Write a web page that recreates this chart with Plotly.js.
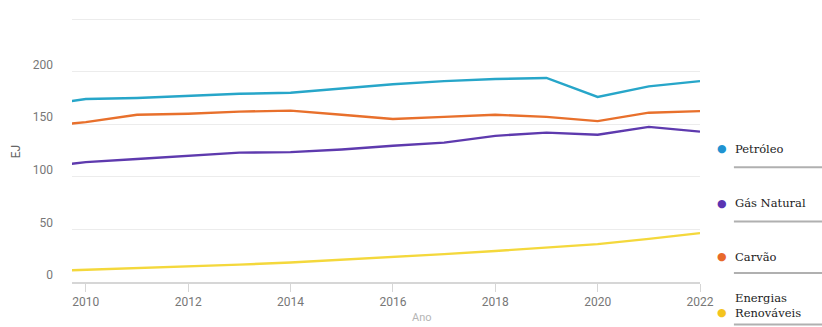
<!DOCTYPE html>
<html><head><meta charset="utf-8">
<script src="https://cdn.plot.ly/plotly-3.0.1.min.js"></script>
<style>html,body{margin:0;padding:0;background:#fff}#chart{width:822px;height:327px}</style>
</head><body><div id="chart"></div>
<script>
const years = [2009,2010,2011,2012,2013,2014,2015,2016,2017,2018,2019,2020,2021,2022];
const petroleo = [167,174,175,177,179,180,184,188,191,193,194,176,186,191];
const gasNatural = [108,114,117,120,123,123.5,126,129.5,132.5,139,142,140,147.5,143];
const carvao = [147,152,159,160,162,163,159,155,157,159,157,153,161,162.5];
const renovaveis = [10,11.5,13,14.5,16.5,18.5,21,23.5,26.5,29.5,32.5,36,41,46.5];
const seriesNames = ['Petróleo','Gás Natural','Carvão','Energias<br>Renováveis'];
const lineColors = ['#27a6c9','#5e3aae','#e8702c','#f4d83c'];
const dotColors = ['#1f93d1','#5a34b2','#e8692a','#f4c41e'];
const yTicks = [0,50,100,150,200,250];
const yTickText = ['0','50','100','150','200',''];
const xTicks = [2010,2012,2014,2016,2018,2020,2022];

const data = [petroleo, gasNatural, carvao, renovaveis].map((v,i)=>({
  x: years, y: v, type:'scatter', mode:'lines', name: seriesNames[i],
  line:{color: lineColors[i], width:2.4}, hoverinfo:'x+y'
}));

const legY = [0.502, 0.297, 0.095, -0.061];
const dotY = [0.502, 0.297, 0.095, -0.114];
const lineY = [0.433, 0.228, 0.034, -0.160];
const annotations = [];
const shapes = [];
seriesNames.forEach((n,i)=>{
  annotations.push({xref:'paper',yref:'paper',x:1.035,y:dotY[i],text:'●',showarrow:false,
    xanchor:'center',yanchor:'middle',font:{size:11,color:dotColors[i],family:'DejaVu Sans'}});
  annotations.push({xref:'paper',yref:'paper',x:1.052,y:legY[i],text:n,showarrow:false,align:'left',
    xanchor:'left',yanchor: i===3 ? 'top':'middle', yshift: i===3 ? 9 : 0,
    font:{size:11.5,color:'#222',family:'"DejaVu Serif", serif'}});
  shapes.push({type:'line',xref:'paper',yref:'paper',x0:1.054,x1:1.2,y0:lineY[i],y1:lineY[i],
    line:{color:'#b0b0b0',width:2}});
});
annotations.push({xref:'paper',yref:'paper',x:0.557,y:-0.1,text:'Ano',showarrow:false,xanchor:'center',yanchor:'top',
  font:{size:11,color:'#b5b5b5',family:'Roboto, sans-serif'}});
annotations.push({xref:'paper',yref:'paper',x:-0.089,y:0.49,text:'EJ',showarrow:false,textangle:-90,xanchor:'center',yanchor:'middle',
  font:{size:12,color:'#666',family:'Roboto, sans-serif'}});

const layout = {
  width:822, height:327,
  margin:{l:72, r:122, t:17, b:45},
  paper_bgcolor:'#fff', plot_bgcolor:'#fff',
  showlegend:false,
  font:{family:'Roboto, sans-serif', color:'#777', size:12},
  xaxis:{range:[2009.73,2022], tickvals:xTicks, showgrid:false, zeroline:false,
    showline:true, linecolor:'#d6d6d6', linewidth:1.5, ticks:'outside', ticklen:8, tickcolor:'#d6d6d6',
    tickfont:{size:12,color:'#777'}, fixedrange:true},
  yaxis:{range:[0,252], tickvals:yTicks, ticktext:yTickText, showgrid:true, gridcolor:'#ececec',
    zeroline:false, showline:false, ticks:'', ticklabelshift:-7, ticklabelstandoff:18,
    tickfont:{size:12,color:'#777'}, fixedrange:true},
  annotations, shapes
};
Plotly.newPlot('chart', data, layout, {displayModeBar:false, staticPlot:true});
</script></body></html>
